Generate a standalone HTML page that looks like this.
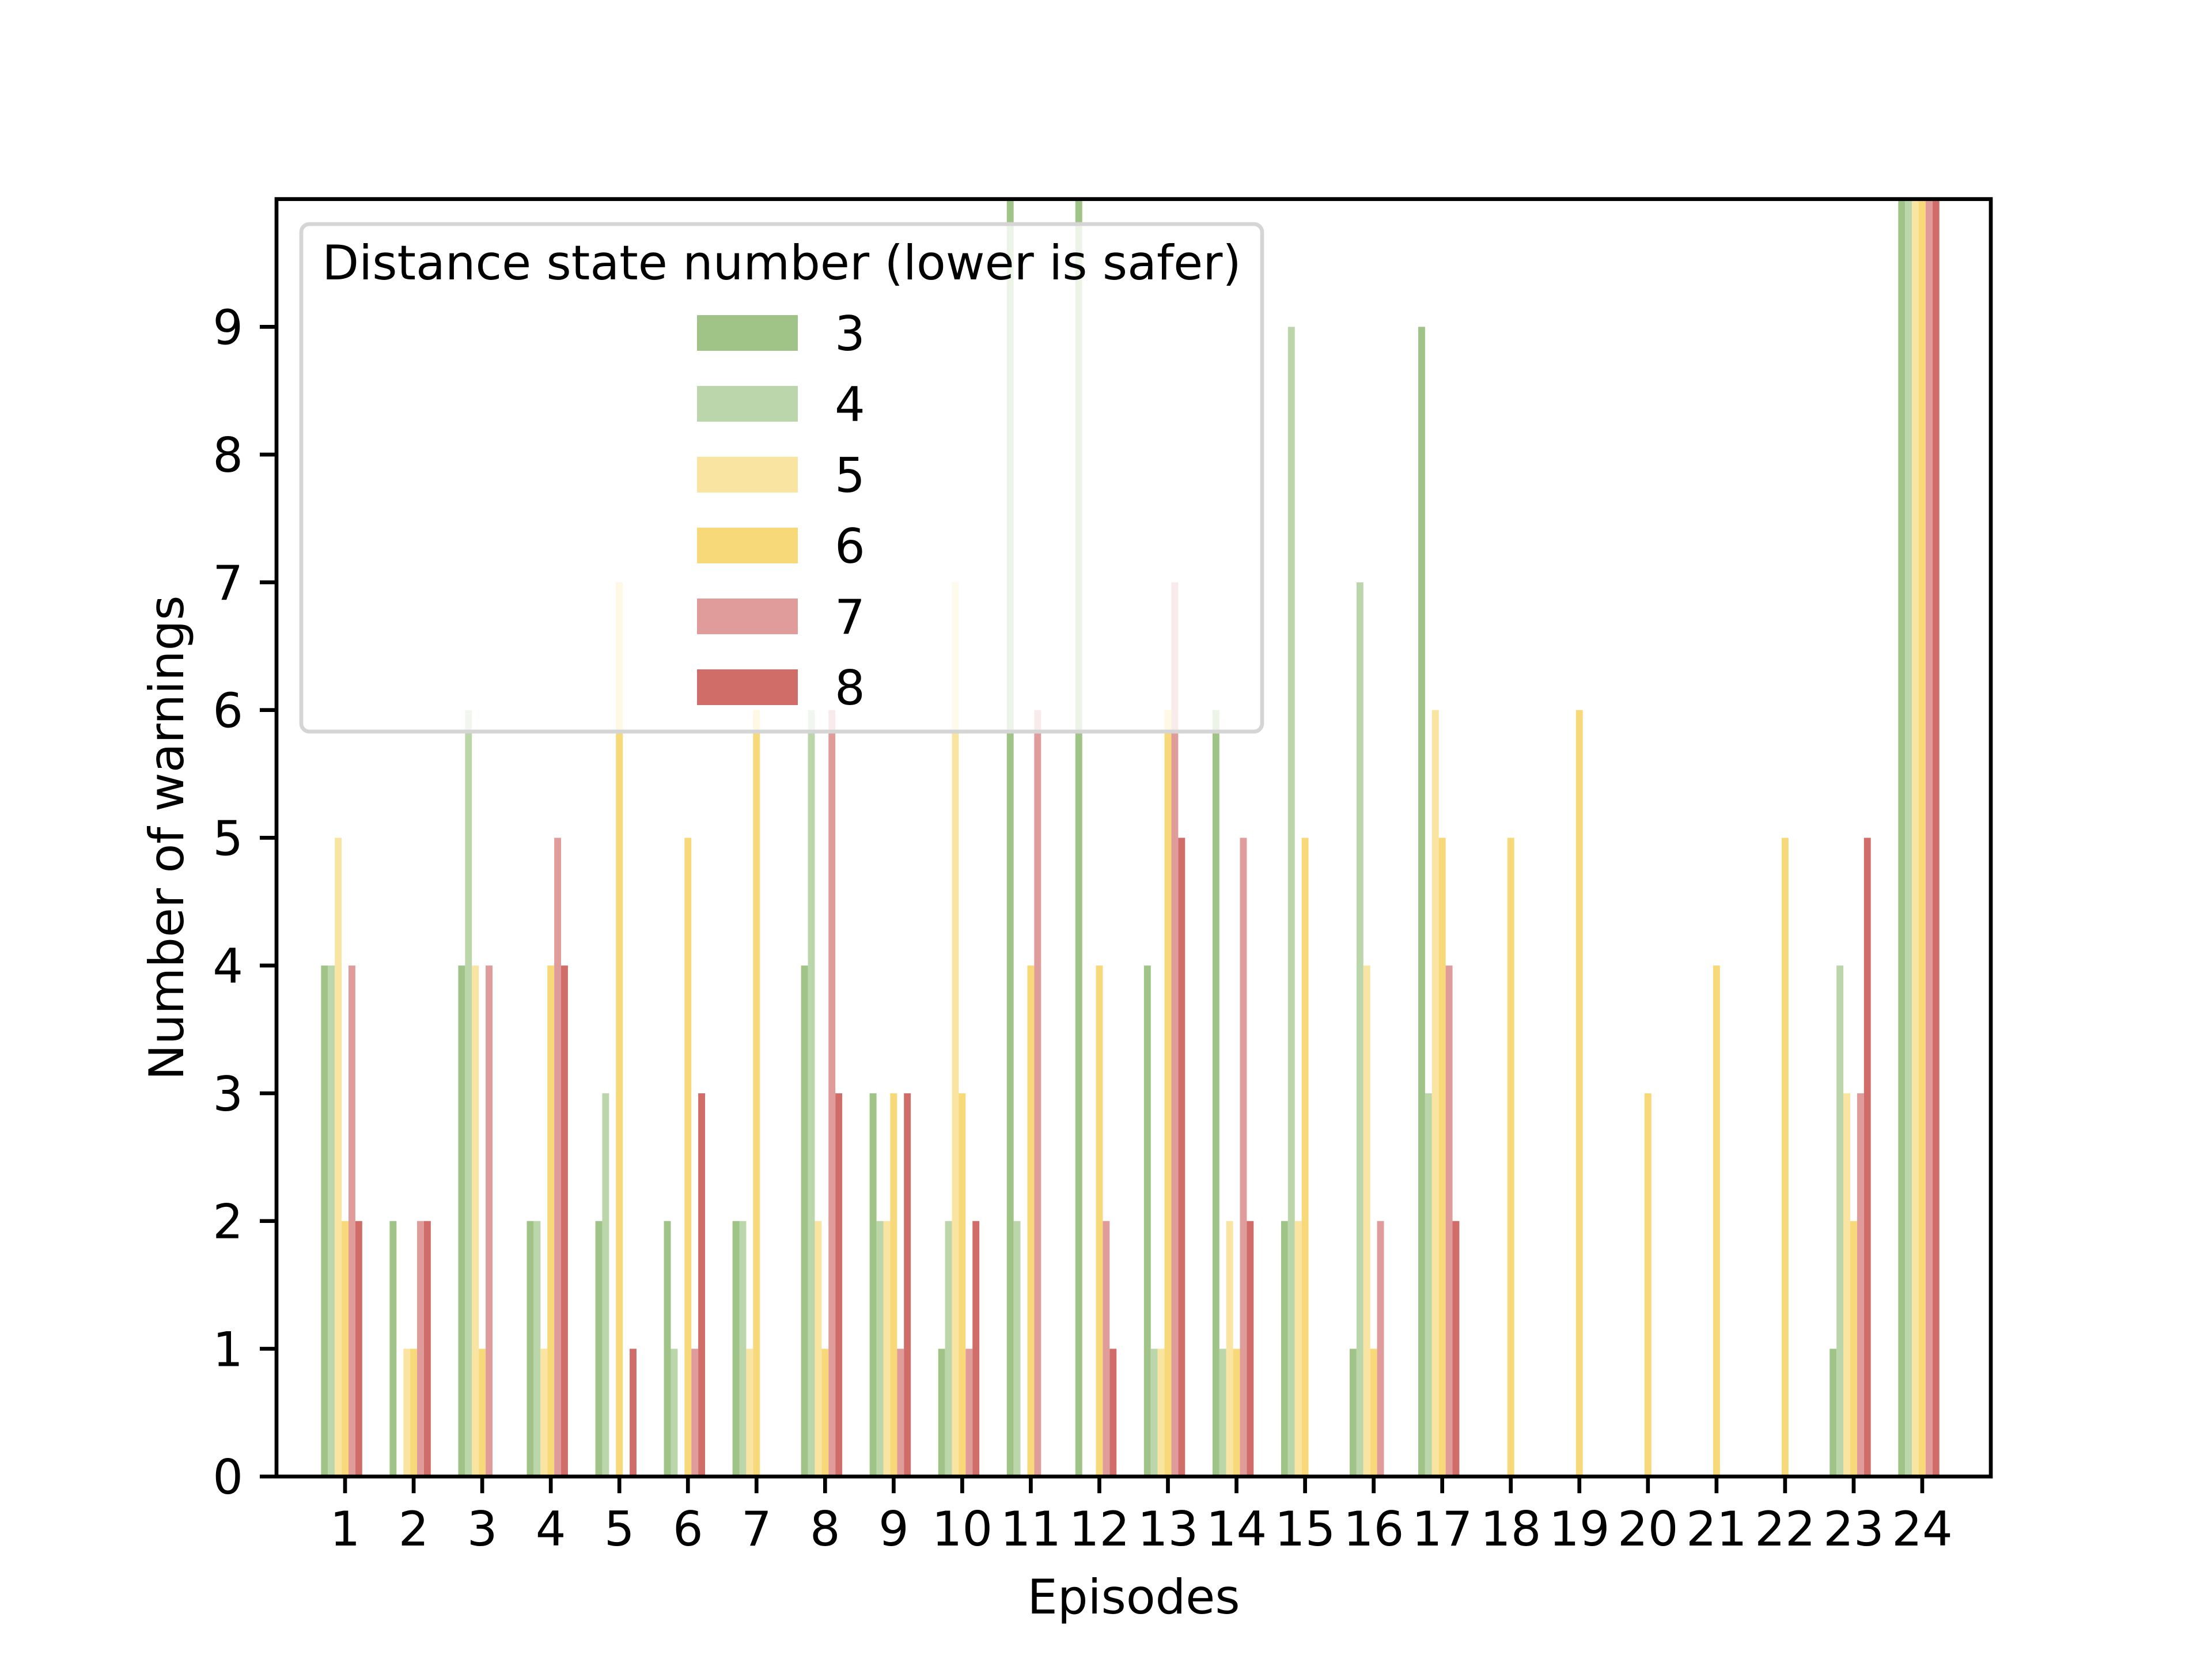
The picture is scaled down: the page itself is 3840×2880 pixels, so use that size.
<!DOCTYPE html>
<html><head><meta charset="utf-8"><style>
html,body{margin:0;padding:0;background:#fff;}
svg{display:block;font-family:"DejaVu Sans","Liberation Sans",sans-serif;}
</style></head><body>
<svg id="chart" width="3840" height="2880" viewBox="0 0 3840 2880" xmlns="http://www.w3.org/2000/svg">
<rect width="3840" height="2880" fill="#fff"/>
<g id="bars"></g>
<g id="axes"></g>
<g id="legend"></g>
</svg>
<script>
const episodes = ["1","2","3","4","5","6","7","8","9","10","11","12","13","14","15","16","17","18","19","20","21","22","23","24"];
const seriesNames = ["3","4","5","6","7","8"];
const s3 = [4,2,4,2,2,2,2,4,3,1,12,11,4,6,2,1,9,0,0,0,0,0,1,12];
const s4 = [4,0,6,2,3,1,2,6,2,2,2,0,1,1,9,7,3,0,0,0,0,0,4,12];
const s5 = [5,1,4,1,0,0,1,2,2,7,0,0,1,2,2,4,6,0,0,0,0,0,3,12];
const s6 = [2,1,1,4,7,5,6,1,3,3,4,4,6,1,5,1,5,5,6,3,4,5,2,12];
const s7 = [4,2,4,5,0,1,0,6,1,1,6,2,7,5,0,2,4,0,0,0,0,0,3,12];
const s8 = [2,2,0,4,1,3,0,3,3,2,0,1,5,2,0,0,2,0,0,0,0,0,5,12];
const yTicks = [0,1,2,3,4,5,6,7,8,9];
const series = [s3,s4,s5,s6,s7,s8];
const colors = ["#a0c487","#bbd6aa","#f9e4a1","#f8d979","#df9c9b","#d06d69"];

const NS = "http://www.w3.org/2000/svg";
const AX = {l:480, r:3456, t:345.6, b:2563.2};
const xMin = 0, xMax = 25, yMin = 0, yMax = 10;
const xs = v => AX.l + (v - xMin) / (xMax - xMin) * (AX.r - AX.l);
const ys = v => AX.b - (Math.min(v, yMax) - yMin) / (yMax - yMin) * (AX.b - AX.t);
const W = 0.1;
function mk(tag, attrs, parent){const e=document.createElementNS(NS,tag);for(const k in attrs)e.setAttribute(k,attrs[k]);parent.appendChild(e);return e;}

const gb = document.getElementById('bars');
series.forEach((arr, si) => {
  arr.forEach((v, i) => {
    if (v <= 0) return;
    const c = (i + 1) + (si - 3) * W;
    const x0 = xs(c - W / 2), x1 = xs(c + W / 2);
    const r = mk('rect', {x:x0, y:ys(v), width:x1 - x0, height:ys(0) - ys(v), fill:colors[si]}, gb);
    
    
  });
});

const ga = document.getElementById('axes');
const frame = mk('rect', {x:AX.l, y:AX.t, width:AX.r - AX.l, height:AX.b - AX.t, fill:'none', stroke:'#000', 'stroke-width':6.7}, ga);


yTicks.forEach(t => {
  const y = ys(t);
  mk('line', {x1:AX.l - 29, x2:AX.l, y1:y, y2:y, stroke:'#000', 'stroke-width':6.7}, ga);
  const tx = mk('text', {x:AX.l - 58, y:y + 30, 'font-size':83, 'text-anchor':'end', fill:'#000'}, ga);
  tx.textContent = t;
  
  
});
episodes.forEach((e, i) => {
  const x = xs(i + 1);
  mk('line', {x1:x, x2:x, y1:AX.b, y2:AX.b + 29, stroke:'#000', 'stroke-width':6.7}, ga);
  const tx = mk('text', {x:x, y:AX.b + 120, 'font-size':83, 'text-anchor':'middle', fill:'#000'}, ga);
  tx.textContent = e;
  
  
});
const xl = mk('text', {x:(AX.l + AX.r) / 2, y:2801, 'font-size':83, 'text-anchor':'middle', fill:'#000'}, ga);
xl.textContent = 'Episodes';


const yl = mk('text', {x:0, y:0, 'font-size':83, 'text-anchor':'middle', fill:'#000', transform:'translate(318,' + ((AX.t + AX.b) / 2) + ') rotate(-90)'}, ga);
yl.textContent = 'Number of warnings';



const gl = document.getElementById('legend');
const lb = mk('rect', {x:523, y:389, width:1668, height:881, rx:14, fill:'rgba(255,255,255,0.8)', stroke:'#d5d5d5', 'stroke-width':6.7}, gl);


const lt = mk('text', {x:1357, y:485, 'font-size':83, 'text-anchor':'middle', fill:'#000'}, gl);
lt.textContent = 'Distance state number (lower is safer)';


seriesNames.forEach((n, si) => {
  const cy = 578 + si * 123;
  const sw = mk('rect', {x:1210, y:cy - 31, width:175, height:62, fill:colors[si]}, gl);
  
  
  const tx = mk('text', {x:1449, y:cy + 30, 'font-size':83, fill:'#000'}, gl);
  tx.textContent = n;
  
  
});
</script>
</body></html>
